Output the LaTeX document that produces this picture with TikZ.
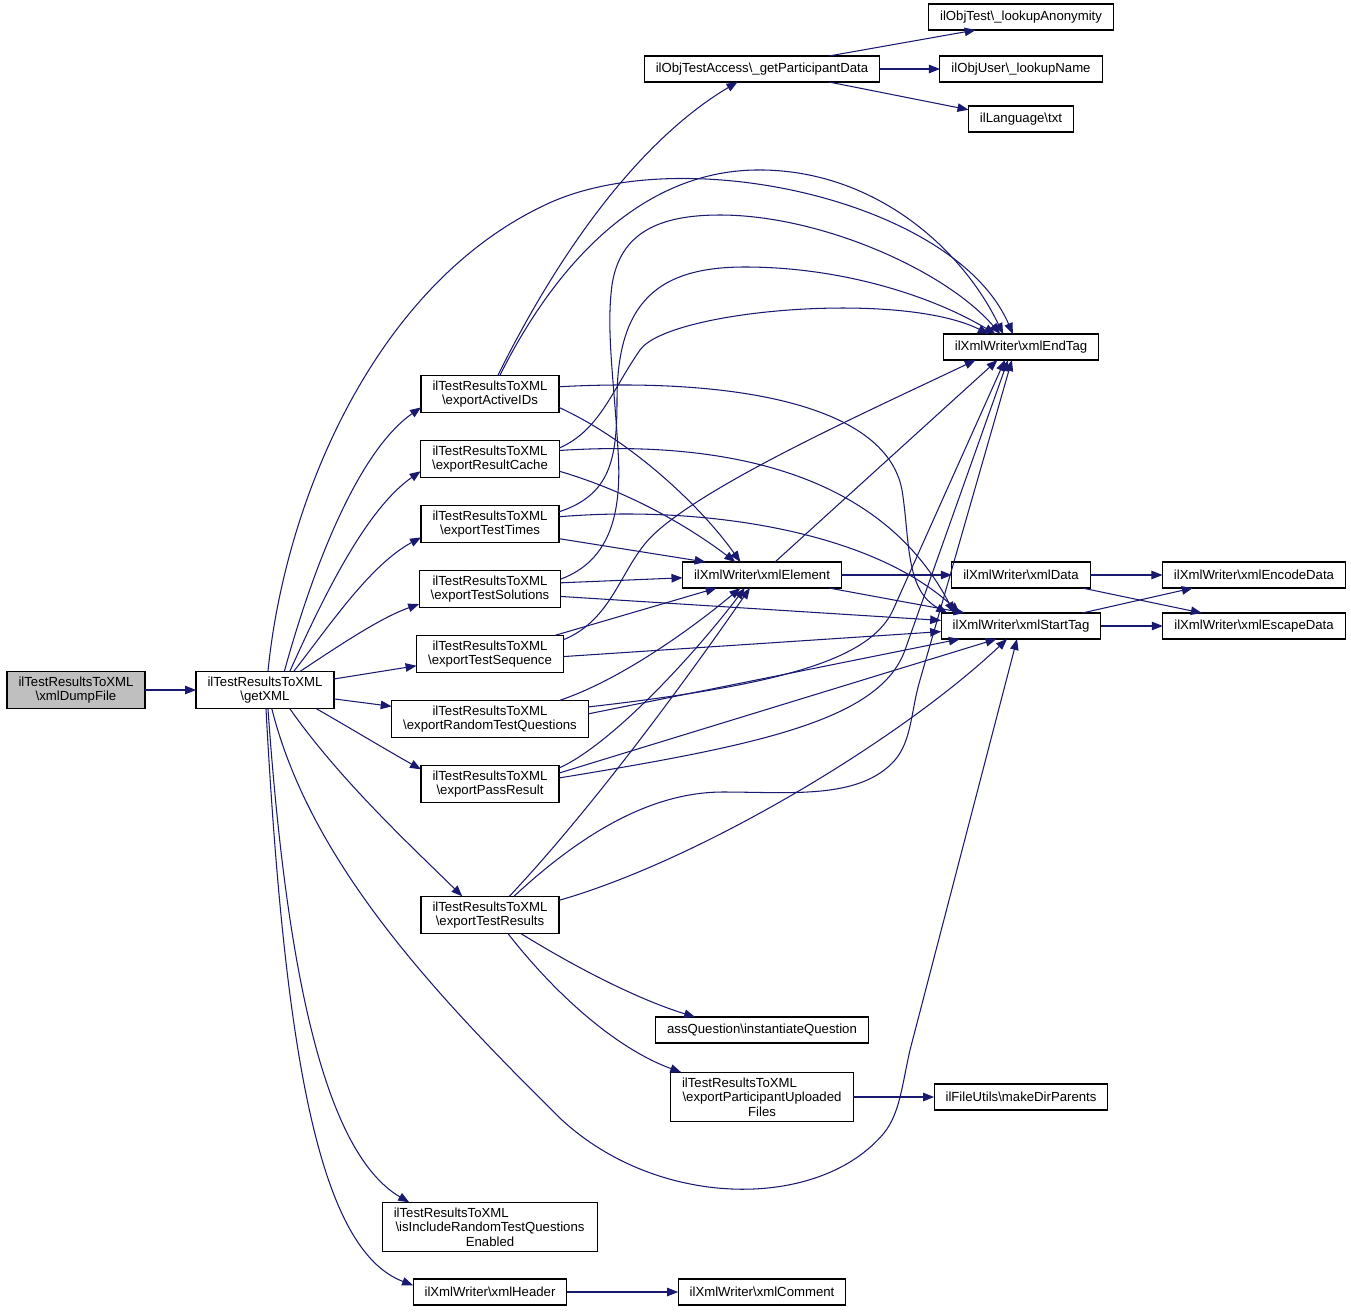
\documentclass[tikz,border=0pt]{standalone}
\usepackage{fontspec}
\setmainfont{Liberation Sans}
\usetikzlibrary{arrows.meta}
\definecolor{edgeblue}{HTML}{191970}
\definecolor{focusgray}{HTML}{BFBFBF}
\newcommand{\bs}{\textbackslash}
\begin{document}
\begin{tikzpicture}[x=0.02cm,y=-0.02cm,inner sep=0pt,outer sep=0pt,
fn/.style={draw,rectangle,inner xsep=0.23cm,inner ysep=3pt,minimum height=0.52cm,align=center,line width=0.6pt,font=\fontsize{7.5}{8.3}\selectfont},
call/.style={draw=edgeblue,line width=0.6pt,-{Triangle[length=0.22cm,width=0.17cm]}}]
\useasboundingbox (0,0) rectangle (1351,1312);
% functions
\draw (76,690) node[fn,fill=focusgray] (dumpfile) {ilTestResultsToXML\\\bs xmlDumpFile};
\draw (265,690) node[fn] (getxml) {ilTestResultsToXML\\\bs getXML};
\draw (490,394) node[fn] (activeids) {ilTestResultsToXML\\\bs exportActiveIDs};
\draw (490,459) node[fn] (resultcache) {ilTestResultsToXML\\\bs exportResultCache};
\draw (490,524) node[fn] (testtimes) {ilTestResultsToXML\\\bs exportTestTimes};
\draw (490,589) node[fn] (testsolutions) {ilTestResultsToXML\\\bs exportTestSolutions};
\draw (490,654) node[fn] (testsequence) {ilTestResultsToXML\\\bs exportTestSequence};
\draw (490,719) node[fn] (randomquestions) {ilTestResultsToXML\\\bs exportRandomTestQuestions};
\draw (490,784) node[fn] (passresult) {ilTestResultsToXML\\\bs exportPassResult};
\draw (490,915) node[fn] (testresults) {ilTestResultsToXML\\\bs exportTestResults};
\draw (490,1227) node[fn,text width=3.85cm] (includerandom) {ilTestResultsToXML\hfill\mbox{}\\\bs isIncludeRandomTestQuestions\\Enabled};
\draw (490,1292) node[fn] (xmlheader) {ilXmlWriter\bs xmlHeader};
\draw (762,1292) node[fn] (xmlcomment) {ilXmlWriter\bs xmlComment};
\draw (762,1030) node[fn] (instantiate) {assQuestion\bs instantiateQuestion};
\draw (762,1097) node[fn,text width=3.2cm] (uploadedfiles) {ilTestResultsToXML\hfill\mbox{}\\\bs exportParticipantUploaded\\Files};
\draw (1021,1097) node[fn] (makedir) {ilFileUtils\bs makeDirParents};
\draw (762,575) node[fn] (xmlelement) {ilXmlWriter\bs xmlElement};
\draw (1021,347) node[fn] (xmlendtag) {ilXmlWriter\bs xmlEndTag};
\draw (1021,626) node[fn] (xmlstarttag) {ilXmlWriter\bs xmlStartTag};
\draw (1021,575) node[fn] (xmldata) {ilXmlWriter\bs xmlData};
\draw (1254,575) node[fn] (encodedata) {ilXmlWriter\bs xmlEncodeData};
\draw (1254,626) node[fn] (escapedata) {ilXmlWriter\bs xmlEscapeData};
\draw (762,69) node[fn] (participantdata) {ilObjTestAccess\bs\_getParticipantData};
\draw (1021,17) node[fn] (anonymity) {ilObjTest\bs\_lookupAnonymity};
\draw (1021,69) node[fn] (lookupname) {ilObjUser\bs\_lookupName};
\draw (1021,119) node[fn] (languagetxt) {ilLanguage\bs txt};
% calls from getXML
\draw[call] (dumpfile) -- (getxml);
\draw[call] (getxml.44) .. controls (315,560) and (360,450) .. (activeids.191);
\draw[call] (getxml.37) .. controls (322,600) and (365,510) .. (resultcache.190);
\draw[call] (getxml.33) .. controls (330,625) and (370,565) .. (testtimes.191);
\draw[call] (getxml.28) .. controls (340,645) and (380,618) .. (testsolutions.192);
\draw[call] (getxml) -- (testsequence);
\draw[call] (getxml) -- (randomquestions);
\draw[call] (getxml.-20) .. controls (350,728) and (390,752) .. (passresult.168);
\draw[call] (getxml.-37) .. controls (340,780) and (410,845) .. (testresults.146);
\draw[call] (getxml.-81) .. controls (285,950) and (320,1150) .. (includerandom.163);
\draw[call] (getxml.-87) .. controls (285,1060) and (320,1250) .. (xmlheader.175);
\draw[call] (getxml.81) .. controls (285,500) and (375,285) .. (545,205) .. controls (680,140) and (955,200) .. (xmlendtag.122);
\draw[call] (getxml.-70) .. controls (310,860) and (430,990) .. (562,1120) .. controls (660,1210) and (820,1210) .. (884,1133) .. controls (900,1113) and (902,1085) .. (910,1050) -- (xmlstarttag.253);
% exportActiveIDs
\draw[call] (activeids.67) .. controls (560,250) and (640,140) .. (participantdata.208);
\draw[call] (activeids.62) .. controls (555,265) and (640,172) .. (755,170) .. controls (870,168) and (960,245) .. (xmlendtag.144);
\draw[call] (activeids.-11) .. controls (630,440) and (700,505) .. (xmlelement.149);
\draw[call] (activeids.6) .. controls (720,378) and (885,400) .. (902,490) .. controls (910,540) and (905,590) .. (xmlstarttag.170);
% exportResultCache
\draw[call] (resultcache.9) .. controls (600,430) and (612,390) .. (640,350) .. controls (668,310) and (900,290) .. (xmlendtag.158);
\draw[call] (resultcache.-10) .. controls (640,495) and (700,535) .. (xmlelement.154);
\draw[call] (resultcache.7) .. controls (720,440) and (880,470) .. (xmlstarttag.169);
% exportTestTimes
\draw[call] (testtimes.10) .. controls (610,495) and (617,460) .. (617,400) .. controls (617,300) and (660,267) .. (745,267) .. controls (840,267) and (930,295) .. (xmlendtag.153);
\draw[call] (testtimes.-12) -- (xmlelement.167);
\draw[call] (testtimes.6) .. controls (700,505) and (870,530) .. (xmlstarttag.168);
% exportTestSolutions
\draw[call] (testsolutions.8) .. controls (612,560) and (622,510) .. (618,450) .. controls (614,380) and (606,330) .. (612,285) .. controls (620,232) and (660,215) .. (720,215) .. controls (820,215) and (945,270) .. (xmlendtag.148);
\draw[call] (testsolutions.5) -- (xmlelement.182);
\draw[call] (testsolutions.-6) -- (xmlstarttag.176);
% exportTestSequence
\draw[call] (testsequence.11) .. controls (612,620) and (620,570) .. (650,538) .. controls (700,487) and (860,415) .. (xmlendtag.196);
\draw[call] (testsequence.16) -- (xmlelement.196);
\draw[call] (testsequence.-2) -- (xmlstarttag.184);
% exportRandomTestQuestions
\draw[call] (randomquestions.15) .. controls (620,680) and (690,630) .. (xmlelement.211);
\draw[call] (randomquestions.7) .. controls (780,685) and (870,660) .. (893,610) -- (xmlendtag.219);
\draw[call] (randomquestions.3) -- (xmlstarttag.192);
% exportPassResult
\draw[call] (passresult.13) .. controls (610,745) and (690,660) .. (xmlelement.217);
\draw[call] (passresult.5) .. controls (760,745) and (880,720) .. (905,650) -- (xmlendtag.225);
\draw[call] (passresult.9) -- (xmlstarttag.208);
% exportTestResults
\draw[call] (testresults.44) .. controls (600,800) and (700,660) .. (xmlelement.227);
\draw[call] (testresults.38) .. controls (580,835) and (650,792) .. (723,792) .. controls (790,792) and (860,800) .. (895,760) .. controls (912,740) and (911,710) .. (920,680) -- (xmlendtag.235);
\draw[call] (testresults.12) .. controls (700,860) and (900,740) .. (xmlstarttag.223);
\draw[call] (testresults.-31) .. controls (580,970) and (640,1000) .. (instantiate.169);
\draw[call] (testresults.-46) .. controls (560,1000) and (620,1050) .. (uploadedfiles.163);
% xml writer
\draw[call] (xmlelement.45) -- (xmlendtag.209);
\draw[call] (xmlelement) -- (xmldata);
\draw[call] (xmlelement.-11) -- (xmlstarttag.167);
\draw[call] (xmldata) -- (encodedata);
\draw[call] (xmldata.-12) -- (escapedata.166);
\draw[call] (xmlstarttag.12) -- (encodedata.192);
\draw[call] (xmlstarttag) -- (escapedata);
% participant data
\draw[call] (participantdata.11) -- (anonymity.196);
\draw[call] (participantdata) -- (lookupname);
\draw[call] (participantdata.-11) -- (languagetxt.170);
\draw[call] (uploadedfiles) -- (makedir);
\draw[call] (xmlheader) -- (xmlcomment);
\end{tikzpicture}
\end{document}
